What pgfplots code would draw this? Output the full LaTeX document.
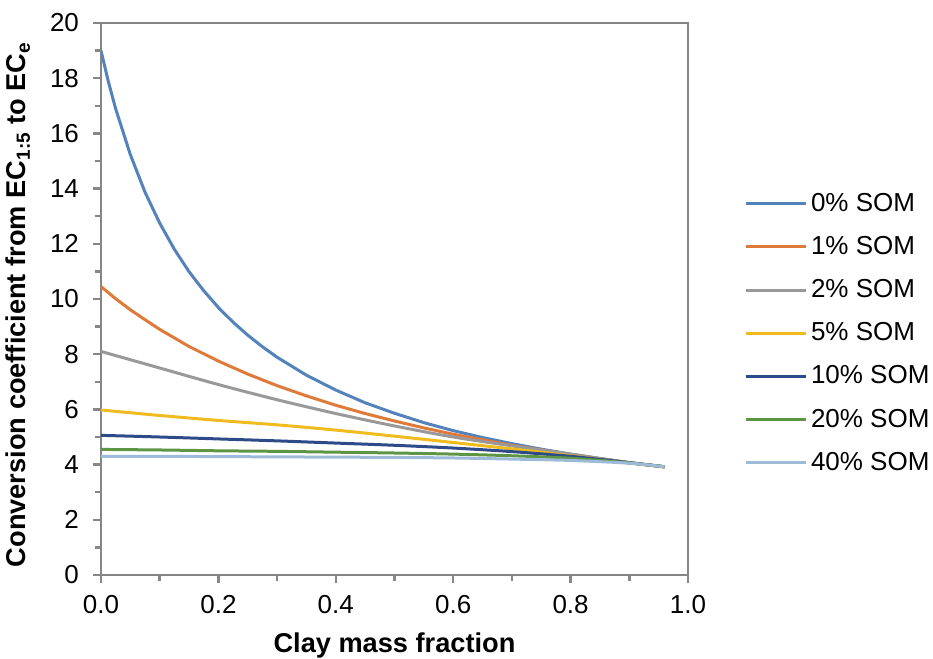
\documentclass[border=0pt]{standalone}
\usepackage{fontspec}
\setmainfont{Liberation Sans}
\usepackage{pgfplots}
\pgfplotsset{compat=1.18}

\definecolor{som0}{HTML}{5383BA}
\definecolor{som1}{HTML}{DE7A3A}
\definecolor{som2}{HTML}{999999}
\definecolor{som5}{HTML}{EFBB1E}
\definecolor{som10}{HTML}{2D4B88}
\definecolor{som20}{HTML}{5E9545}
\definecolor{som40}{HTML}{9DBBD8}
\definecolor{axisgray}{HTML}{868686}

\begin{document}
\begin{tikzpicture}
\begin{axis}[
  name=ax,
  scale only axis,
  width=293.5pt, height=276pt,
  xmin=0, xmax=1, ymin=0, ymax=20,
  xtick={0,0.2,...,1.0}, ytick={0,2,...,20},
  minor xtick={0.1,0.3,...,0.9}, minor ytick={1,3,...,19},
  /pgf/number format/assume math mode=true,
  tick label style={font=\fontsize{13}{15}\selectfont},
  yticklabel style={xshift=-3.5pt},
  xticklabel style={yshift=-2.5pt,
    /pgf/number format/.cd, fixed, fixed zerofill, precision=1},
  label style={font=\fontsize{13.6}{16}\selectfont\bfseries},
  xlabel={Clay mass fraction},
  ylabel={Conversion coefficient from EC\textsubscript{1:5} to EC\textsubscript{e}},
  xlabel style={at={(axis description cs:0.5,-0.1413)}, anchor=base},
  ylabel style={at={(axis description cs:-0.1414,0.49)}, anchor=center},
  axis line style={axisgray, line width=1.3pt},
  tick style={axisgray, line width=1.2pt},
  major tick length=4pt, minor tick length=3pt,
  tick align=outside,
  xtick pos=bottom, ytick pos=left,
  legend style={at={(1.0845,0.438)}, anchor=west, draw=none,
    font=\fontsize{13}{16}\selectfont, row sep=7pt,
    /tikz/every even column/.append style={column sep=0pt}},
  legend cell align=left,
  legend image code/.code={\draw[#1] (0pt,0pt) -- (30pt,0pt);},
  every axis plot/.append style={line width=1.5pt},
]
% 0% SOM
\addplot[som0] coordinates {
  (0,19.0) (0.0125,17.88) (0.025,16.89) (0.05,15.23) (0.075,13.87)
  (0.1,12.75) (0.125,11.80) (0.15,10.99) (0.175,10.30) (0.2,9.69)
  (0.225,9.16) (0.25,8.69) (0.275,8.27) (0.3,7.89) (0.35,7.24) (0.4,6.70)
  (0.45,6.24) (0.5,5.86) (0.55,5.52) (0.6,5.23) (0.65,4.98) (0.7,4.76)
  (0.75,4.56) (0.8,4.38) (0.85,4.22) (0.9,4.07) (0.96,3.92)};
\addlegendentry{0\% SOM}
% 1% SOM
\addplot[som1] coordinates {
  (0,10.45) (0.025,10.01) (0.05,9.61) (0.075,9.25) (0.1,8.90) (0.15,8.28)
  (0.2,7.75) (0.25,7.28) (0.3,6.86) (0.35,6.49) (0.4,6.15) (0.45,5.85)
  (0.5,5.58) (0.55,5.33) (0.6,5.10) (0.65,4.90) (0.7,4.70) (0.75,4.53)
  (0.8,4.36) (0.85,4.21) (0.9,4.07) (0.96,3.92)};
\addlegendentry{1\% SOM}
% 2% SOM
\addplot[som2, smooth] coordinates {
  (0,8.1) (0.1,7.5) (0.2,6.9) (0.3,6.35) (0.4,5.85) (0.5,5.4)
  (0.6,5.0) (0.7,4.68) (0.8,4.38) (0.9,4.07) (0.96,3.92)};
\addlegendentry{2\% SOM}
% 5% SOM
\addplot[som5, smooth] coordinates {
  (0,5.98) (0.1,5.78) (0.2,5.6) (0.3,5.44) (0.4,5.25) (0.5,5.03)
  (0.6,4.8) (0.7,4.57) (0.8,4.32) (0.9,4.06) (0.96,3.92)};
\addlegendentry{5\% SOM}
% 10% SOM
\addplot[som10, smooth] coordinates {
  (0,5.06) (0.1,5.0) (0.2,4.93) (0.3,4.86) (0.4,4.78) (0.5,4.7)
  (0.6,4.6) (0.7,4.47) (0.8,4.3) (0.9,4.07) (0.96,3.92)};
\addlegendentry{10\% SOM}
% 20% SOM
\addplot[som20, smooth] coordinates {
  (0,4.55) (0.1,4.53) (0.2,4.5) (0.3,4.48) (0.4,4.45) (0.5,4.42)
  (0.6,4.38) (0.7,4.32) (0.8,4.23) (0.9,4.06) (0.96,3.92)};
\addlegendentry{20\% SOM}
% 40% SOM
\addplot[som40, smooth] coordinates {
  (0,4.3) (0.1,4.3) (0.2,4.29) (0.3,4.28) (0.4,4.27) (0.5,4.26)
  (0.6,4.24) (0.7,4.2) (0.8,4.15) (0.9,4.05) (0.96,3.92)};
\addlegendentry{40\% SOM}
\end{axis}
% page = reference frame round the axis box
\pgfresetboundingbox
\path[use as bounding box] ([shift={(-50.5pt,-42pt)}]ax.south west)
  rectangle ([shift={(122.5pt,11.5pt)}]ax.north east);
\end{tikzpicture}
\end{document}
